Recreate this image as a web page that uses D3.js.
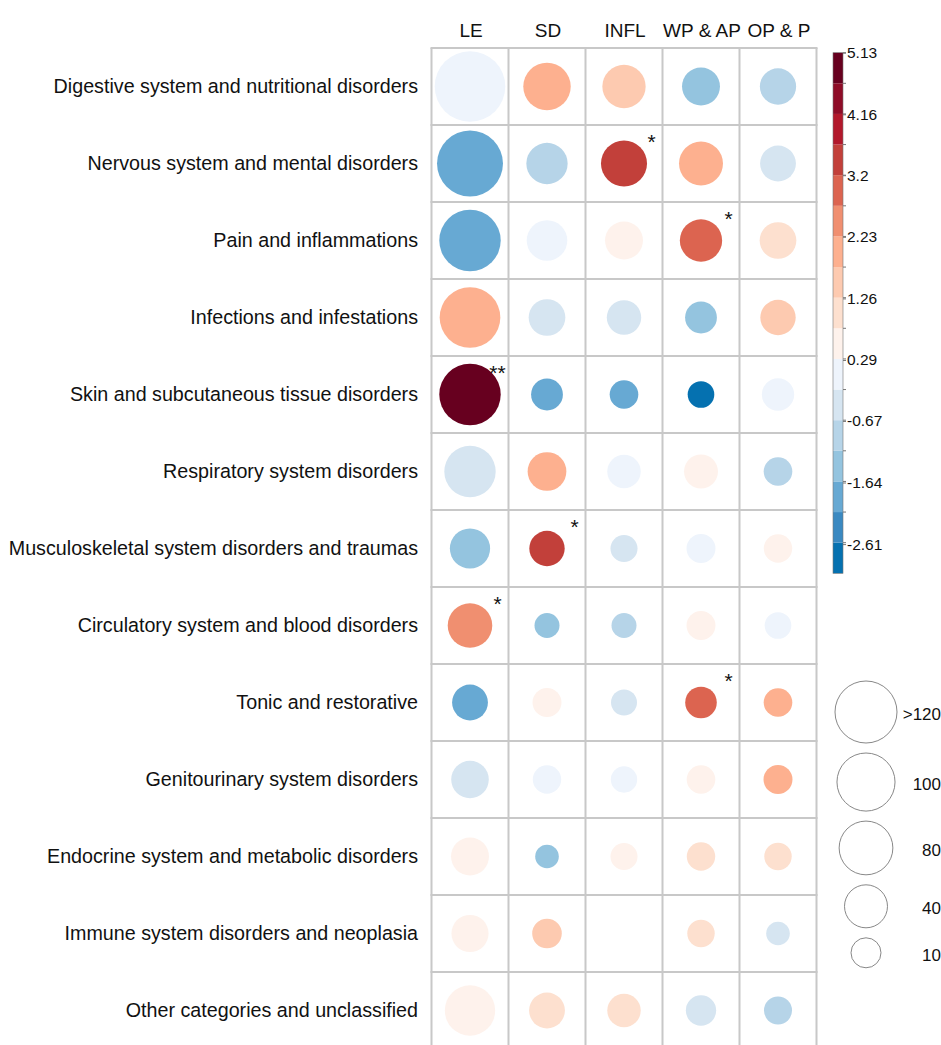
<!DOCTYPE html>
<html>
<head>
<meta charset="utf-8">
<script src="https://cdn.jsdelivr.net/npm/d3@7"></script>
<style>
  html, body { margin: 0; padding: 0; background: #fff; }
  svg { display: block; font-family: "Liberation Sans", Arial, sans-serif; }
</style>
</head>
<body>
<svg id="chart" width="941" height="1045"></svg>
<script>
// ---------------- data ----------------
const columns = ["LE", "SD", "INFL", "WP & AP", "OP & P"];
const categories = [
  "Digestive system and nutritional disorders",
  "Nervous system and mental disorders",
  "Pain and inflammations",
  "Infections and infestations",
  "Skin and subcutaneous tissue disorders",
  "Respiratory system disorders",
  "Musculoskeletal system disorders and traumas",
  "Circulatory system and blood disorders",
  "Tonic and restorative",
  "Genitourinary system disorders",
  "Endocrine system and metabolic disorders",
  "Immune system disorders and neoplasia",
  "Other categories and unclassified"
];
// colour value (per row, per column)
const zLE   = [0.05, -1.85, -1.90, 2.00, 5.13, -0.40, -1.40, 2.45, -1.85, -0.45, 0.55, 0.50, 0.50];
const zSD   = [1.95, -0.90, 0.05, -0.40, -1.85, 1.95, 3.40, -1.40, 0.55, 0.05, -1.35, 1.50, 1.00];
const zINFL = [1.50, 3.45, 0.50, -0.45, -1.90, 0.05, -0.40, -0.90, -0.45, 0.05, 0.55, null, 1.05];
const zWPAP = [-1.40, 2.00, 2.95, -1.35, -3.05, 0.50, 0.05, 0.55, 2.95, 0.50, 1.00, 1.05, -0.45];
const zOPP  = [-0.90, -0.40, 1.00, 1.50, 0.05, -0.90, 0.55, 0.05, 2.00, 2.05, 1.00, -0.45, -0.90];
// circle size value (per row, per column)
const nLE   = [170, 142, 117, 113, 117, 70, 32, 45, 21, 25, 26, 24, 66];
const nSD   = [55, 35, 33, 23, 13, 28, 20, 3.8, 8.5, 7.7, 2.6, 9.4, 21];
const nINFL = [41, 50, 26, 18, 8, 16, 6, 3.8, 4.8, 5.2, 6, null, 16];
const nWPAP = [26, 43, 38, 13, 5.5, 17, 8.5, 8.5, 12.6, 8, 7.7, 6.4, 10.6];
const nOPP  = [22, 21, 23, 20, 14, 8, 7.7, 5.5, 8, 8.5, 6.4, 2.6, 7.2];
// significance marks
const sigLE   = ["", "", "", "", "**", "", "", "*", "", "", "", "", ""];
const sigSD   = ["", "", "", "", "", "", "*", "", "", "", "", "", ""];
const sigINFL = ["", "*", "", "", "", "", "", "", "", "", "", "", ""];
const sigWPAP = ["", "", "*", "", "", "", "", "", "*", "", "", "", ""];
const sigOPP  = ["", "", "", "", "", "", "", "", "", "", "", "", ""];

const colorDomain = [-3.07, 5.13];
const colorTicks = [5.13, 4.16, 3.2, 2.23, 1.26, 0.29, -0.67, -1.64, -2.61];
const bandColors = [
  "#0571b0", "#3a89c1", "#67a9d3", "#94c4df", "#b6d4e8", "#d6e5f1",
  "#eef4fc", "#fef2ec", "#fde0cf", "#fdcab0", "#fdb08f", "#f08f70",
  "#dc6450", "#c2403a", "#b2182b", "#8e0c27", "#67001f"
];
const sizeLegendValues = [120, 100, 80, 40, 10];
const sizeLegendLabels = [">120", "100", "80", "40", "10"];

// ---------------- build table ----------------
const zCols = [zLE, zSD, zINFL, zWPAP, zOPP];
const nCols = [nLE, nSD, nINFL, nWPAP, nOPP];
const sCols = [sigLE, sigSD, sigINFL, sigWPAP, sigOPP];
const cells = [];
categories.forEach((cat, i) => {
  columns.forEach((col, j) => {
    cells.push({ cat, col, z: zCols[j][i], n: nCols[j][i], sig: sCols[j][i] });
  });
});

// ---------------- scales ----------------
const svg = d3.select("#chart");
const cellSize = 77;
const gridLeft = 431.5, gridTop = 48;

const x = d3.scaleBand().domain(columns)
  .range([gridLeft, gridLeft + cellSize * columns.length]).padding(0);
const y = d3.scaleBand().domain(categories)
  .range([gridTop, gridTop + cellSize * categories.length]).padding(0);
const color = d3.scaleQuantize().domain(colorDomain).range(bandColors);
const size = d3.scaleSqrt().domain([0, 120]).range([8.5, 31]);

// ---------------- grid ----------------
const grid = svg.append("g").attr("stroke", "#c8c8c8").attr("stroke-width", 2);
d3.range(columns.length + 1).forEach(k => {
  const xx = gridLeft + k * x.bandwidth();
  grid.append("line").attr("x1", xx).attr("x2", xx)
    .attr("y1", y.range()[0]).attr("y2", y.range()[1]);
});
d3.range(categories.length + 1).forEach(k => {
  const yy = gridTop + k * y.bandwidth();
  grid.append("line").attr("x1", x.range()[0] - 1).attr("x2", x.range()[1] + 1)
    .attr("y1", yy).attr("y2", yy);
});

// ---------------- circles ----------------
svg.append("g").selectAll("circle")
  .data(cells.filter(d => d.z !== null && d.n !== null))
  .join("circle")
  .attr("cx", d => x(d.col) + x.bandwidth() / 2)
  .attr("cy", d => y(d.cat) + y.bandwidth() / 2)
  .attr("r", d => size(d.n))
  .attr("fill", d => color(d.z));

// significance stars
svg.append("g").selectAll("text")
  .data(cells.filter(d => d.sig))
  .join("text")
  .attr("x", d => x(d.col) + x.bandwidth() - 11)
  .attr("y", d => y(d.cat) + 24)
  .attr("text-anchor", "middle")
  .attr("font-size", 21)
  .attr("fill", "#111")
  .text(d => d.sig);

// ---------------- labels ----------------
svg.append("g").selectAll("text")
  .data(columns).join("text")
  .attr("x", d => x(d) + x.bandwidth() / 2 + 1)
  .attr("y", 37)
  .attr("text-anchor", "middle")
  .attr("font-size", 19)
  .attr("fill", "#111")
  .text(d => d);

svg.append("g").selectAll("text")
  .data(categories).join("text")
  .attr("x", 418)
  .attr("y", d => y(d) + y.bandwidth() / 2)
  .attr("dy", "0.35em")
  .attr("text-anchor", "end")
  .attr("font-size", 19.7)
  .attr("fill", "#111")
  .text(d => d);

// ---------------- colour bar ----------------
const barX = 833, barW = 10, barTop = 52.7, barBottom = 573.3;
const cy = d3.scaleLinear().domain(colorDomain).range([barBottom, barTop]);
const bar = svg.append("g");
bar.selectAll("rect")
  .data(bandColors)
  .join("rect")
  .attr("x", barX)
  .attr("width", barW)
  .attr("y", c => cy(color.invertExtent(c)[1]))
  .attr("height", c => cy(color.invertExtent(c)[0]) - cy(color.invertExtent(c)[1]))
  .attr("fill", c => c);
bar.append("rect").attr("x", barX).attr("y", barTop).attr("width", barW)
  .attr("height", barBottom - barTop).attr("fill", "none")
  .attr("stroke", "#777").attr("stroke-width", 0.6);
// minor ticks at every band edge
const edges = bandColors.map(c => color.invertExtent(c)[1]);
bar.selectAll("line.tk")
  .data(edges).join("line").attr("class", "tk")
  .attr("x1", barX + barW).attr("x2", barX + barW + 3)
  .attr("y1", d => cy(d)).attr("y2", d => cy(d))
  .attr("stroke", "#777").attr("stroke-width", 1);
const cAxis = d3.axisRight(cy).tickValues(colorTicks).tickSize(3)
  .tickFormat(d => String(d));
const cg = svg.append("g").attr("transform", `translate(${barX + barW},0)`).call(cAxis);
cg.select(".domain").remove();
cg.selectAll(".tick line").attr("stroke", "#777");
cg.selectAll(".tick text").attr("font-size", 15.5).attr("fill", "#111")
  .attr("x", 4).attr("font-family", "Liberation Sans, Arial, sans-serif");

// ---------------- size legend ----------------
let yPos = 712 - size(sizeLegendValues[0]) - 10;
const legendItems = sizeLegendValues.map((v, i) => {
  const r = size(v);
  yPos += 10 + r;
  const item = { v, r, cy: yPos, label: sizeLegendLabels[i] };
  yPos += r;
  return item;
});
const lg = svg.append("g");
lg.selectAll("circle").data(legendItems).join("circle")
  .attr("cx", 866).attr("cy", d => d.cy).attr("r", d => d.r)
  .attr("fill", "none").attr("stroke", "#888").attr("stroke-width", 1);
lg.selectAll("text").data(legendItems).join("text")
  .attr("x", 941).attr("y", d => d.cy + 2).attr("dy", "0.35em")
  .attr("text-anchor", "end").attr("font-size", 17).attr("fill", "#111")
  .text(d => d.label);
</script>
</body>
</html>
